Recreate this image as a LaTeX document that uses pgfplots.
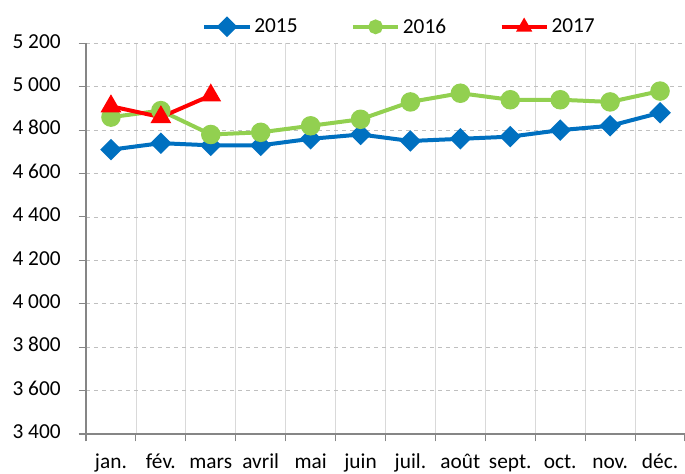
\documentclass[border=0pt]{standalone}
\usepackage{fontspec}
\setmainfont{Carlito}
\usepackage{pgfplots}
\pgfplotsset{compat=1.18}
\definecolor{cblue}{HTML}{0070C0}
\definecolor{cgreen}{HTML}{92D050}
\definecolor{cred}{HTML}{FF0000}
\definecolor{axgray}{HTML}{868686}
\begin{document}
\begin{tikzpicture}
\begin{axis}[
  at={(0,0)}, anchor=south west,
  scale only axis,
  width=449.25pt, height=293pt,
  xmin=0.5, xmax=12.5,
  ymin=3400, ymax=5200,
  ytick={3400,3600,...,5200},
  xtick={0.5,1.5,...,12.5},
  x tick label as interval,
  xticklabels={jan.,fév.,mars,avril,mai,juin,juil.,août,sept.,oct.,nov.,déc.},
  axis x line*=bottom, axis y line*=left,
  axis line style={axgray, line width=0.8pt},
  tick style={axgray, line width=0.8pt},
  tick align=outside,
  major tick length=5.5pt,
  xmajorgrids, ymajorgrids,
  x grid style={solid, black!15, line width=0.6pt},
  y grid style={dashed, black!25, line width=0.6pt},
  /pgf/number format/assume math mode=true,
  /pgf/number format/.cd, 1000 sep={\ }, /pgfplots/.cd,
  tick label style={font=\fontsize{16}{18}\selectfont},
  typeset ticklabels with strut,
  yticklabel style={xshift=-10pt},
  xticklabel style={yshift=-4pt},
  legend style={draw=none, fill=none, at={(0.524,1.0)}, anchor=south, yshift=2pt, font=\fontsize{16}{18}\selectfont, /tikz/every even column/.append style={column sep=38pt}},
  legend columns=3,
  legend image code/.code={\draw[#1, mark=none] (0pt,0pt) -- (34pt,0pt); \draw[#1, mark size=4pt] plot coordinates {(17pt,0pt)};},
  clip=false,
]
\addplot[cblue, line width=3pt, mark=square*, mark size=4.2pt, mark options={rotate=45}] coordinates {
(1,4710)(2,4740)(3,4730)(4,4730)(5,4760)(6,4780)(7,4750)(8,4760)(9,4770)(10,4800)(11,4820)(12,4880)};
\addlegendentry{2015}
\addplot[cgreen, line width=3pt, mark=*, mark size=5.8pt] coordinates {
(1,4860)(2,4890)(3,4780)(4,4790)(5,4820)(6,4850)(7,4930)(8,4970)(9,4940)(10,4940)(11,4930)(12,4980)};
\addlegendentry{2016}
\addplot[cred, line width=3pt, mark=triangle*, mark size=6pt] coordinates {
(1,4910)(2,4860)(3,4960)};
\addlegendentry{2017}
\end{axis}
\pgfresetboundingbox
\path (-64.5pt,-30pt) rectangle (449.25pt,325.5pt);
\end{tikzpicture}
\end{document}
